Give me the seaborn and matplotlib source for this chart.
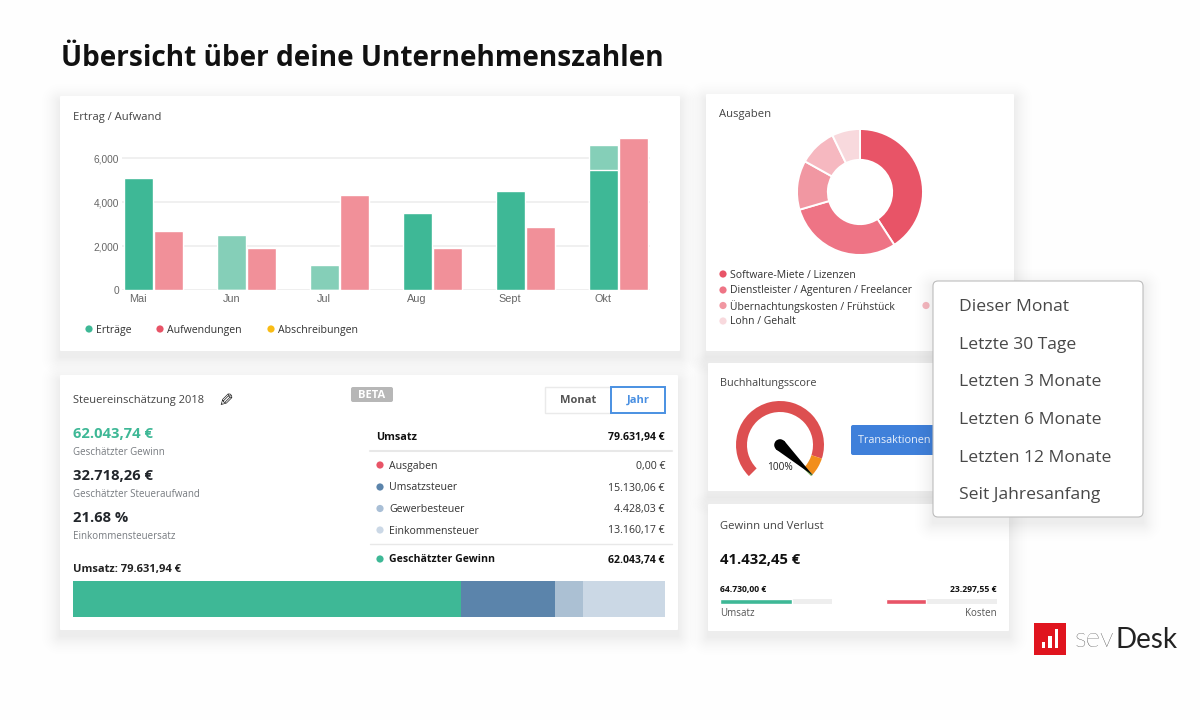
import numpy as np
import pandas as pd
import seaborn as sns
import matplotlib.pyplot as plt
from matplotlib.patches import FancyBboxPatch, Rectangle, Circle, Polygon

# Balkendiagramm
monate = ['Mai', 'Jun', 'Jul', 'Aug', 'Sept', 'Okt']
ertraege_hell = [0, 2480, 1130, 0, 0, 6590]
ertraege = [5080, 0, 0, 3480, 4490, 5470]
aufwendungen = [2680, 1910, 4340, 1910, 2850, 6910]
y_ticks = [0, 2000, 4000, 6000]
y_tick_labels = ['0', '2,000', '4,000', '6,000']
legende_balken = ['Erträge', 'Aufwendungen', 'Abschreibungen']

# Donut
ausgaben_namen = ['Software-Miete / Lizenzen', 'Dienstleister / Agenturen / Freelancer',
                  'Übernachtungskosten / Frühstück', 'Lohn / Gehalt']
ausgaben_werte = [40.8, 29.6, 12.6, 9.7, 7.2]
ausgaben_farben = ['#E85467', '#EE7485', '#F197A2', '#F6B8C0', '#F8D9DD']

# Steuer
steuer_namen = ['Ausgaben', 'Umsatzsteuer', 'Gewerbesteuer', 'Einkommensteuer']
steuer_texte = ['0,00 €', '15.130,06 €', '4.428,03 €', '13.160,17 €']
steuer_farben = ['#E85467', '#5B84AB', '#A9BFD6', '#CBD8E6']
balken_werte = [62043.74, 15130.06, 4428.03, 13160.17]
balken_farben = ['#3EB896', '#5B84AB', '#ABC0D3', '#CBD8E5']
kennzahlen = ['62.043,74 €', '32.718,26 €', '21.68 %']
kennzahlen_namen = ['Geschätzter Gewinn', 'Geschätzter Steueraufwand', 'Einkommensteuersatz']

# Score
score_grad = [243, 24, 3, 90]
score_farben = ['#DD4F50', '#F28E1C', '#7DAF5A', 'white']

# Gewinn und Verlust
umsatz_anteil = [0.64]
kosten_anteil = [0.36]

zeitraeume = ['Dieser Monat', 'Letzte 30 Tage', 'Letzten 3 Monate',
              'Letzten 6 Monate', 'Letzten 12 Monate', 'Seit Jahresanfang']

GRUEN = '#3EB896'
HELLGRUEN = '#85CFB8'
ROSA = '#F19099'
ROT = '#E85467'
DUNKEL = '#22262B'
GRAU = '#777B80'

sns.set_theme(style='white')
plt.rcParams['font.family'] = ['Open Sans', 'DejaVu Sans']


def px_axes(fig, x0, y0, x1, y1):
    # Achsen in Pixelkoordinaten des Bildes (y von oben)
    return fig.add_axes([x0 / 1200, 1 - y1 / 720, (x1 - x0) / 1200, (y1 - y0) / 720])


def schatten(ax, x0, y0, x1, y1, z=1, staerke=0.07, blur=24, versatz=6):
    xx, yy = np.meshgrid(np.arange(1200) + 0.5, np.arange(720) + 0.5)
    dx = np.maximum(np.maximum(x0 - xx, xx - x1), 0)
    dy = np.maximum(np.maximum(y0 + versatz - yy, yy - y1 - versatz), 0)
    rgba = np.zeros((720, 1200, 4))
    rgba[..., 3] = staerke * np.clip(1 - np.hypot(dx, dy) / blur, 0, 1) ** 2
    ax.imshow(rgba, extent=(0, 1200, 720, 0), aspect='auto', zorder=z, interpolation='nearest')
    ax.set_xlim(0, 1200)
    ax.set_ylim(720, 0)


def card(ax, x0, y0, x1, y1, z=1, radius=1, edge='none'):
    schatten(ax, x0, y0, x1, y1, z=z)
    ax.add_patch(FancyBboxPatch((x0, y0), x1 - x0, y1 - y0,
                                boxstyle=f'round,pad=0,rounding_size={radius}',
                                fc='white', ec=edge, lw=0.8, zorder=z + 0.1))


def txt(ax, x, y, s, size=8, color=DUNKEL, weight='normal', ha='left', z=3, **kw):
    ax.text(x, y + 1.5, s, fontsize=size, color=color, fontweight=weight, ha=ha, va='center', zorder=z, **kw)


def dot(ax, x, y, color, r=3.6, z=3):
    ax.add_patch(Circle((x, y), r, fc=color, ec='none', zorder=z))


fig = plt.figure(figsize=(12, 7.2), dpi=100, facecolor='#FEFEFE')
bg = fig.add_axes([0, 0, 1, 1], zorder=0)
bg.set_xlim(0, 1200)
bg.set_ylim(720, 0)
bg.axis('off')

txt(bg, 61, 57, 'Übersicht über deine Unternehmenszahlen', size=20.15, color='#111111', weight='bold')

card(bg, 60, 96, 680, 351)
card(bg, 60, 375, 678, 630)
card(bg, 706, 94, 1014, 351)
card(bg, 708, 363, 1010, 491)
card(bg, 708, 504, 1009, 631)

# Ertrag / Aufwand
txt(bg, 73, 116, 'Ertrag / Aufwand', size=8.1, color='#444444')
ax = px_axes(fig, 122, 130, 650, 290)
ax.patch.set_alpha(0)
ax.set_zorder(2)
hinten = pd.DataFrame({'monat': monate * 2, 'wert': ertraege_hell + aufwendungen,
                       'serie': ['ertrag'] * 6 + ['aufwand'] * 6})
vorne = pd.DataFrame({'monat': monate * 2, 'wert': ertraege + aufwendungen,
                      'serie': ['ertrag'] * 6 + ['aufwand'] * 6})
sns.barplot(data=hinten, x='monat', y='wert', hue='serie', hue_order=['ertrag', 'aufwand'],
            palette={'ertrag': HELLGRUEN, 'aufwand': ROSA}, width=0.66, gap=0.05, saturation=1,
            legend=False, ax=ax, zorder=2)
sns.barplot(data=vorne, x='monat', y='wert', hue='serie', hue_order=['ertrag', 'aufwand'],
            palette={'ertrag': GRUEN, 'aufwand': ROSA}, width=0.66, gap=0.05, saturation=1,
            legend=False, ax=ax, zorder=3)
ax.set_xlim(-0.339, 5.339)
ax.set_ylim(0, 160 / 132 * 6000)
ax.set_xlabel('')
ax.set_ylabel('')
ax.set_xticks(np.arange(6) - 0.165, monate)
ax.set_yticks(y_ticks, y_tick_labels)
ax.tick_params(axis='x', length=0, labelsize=7.8, labelcolor='#666666', pad=3)
ax.tick_params(axis='y', length=0, labelsize=7.3, labelcolor='#666666', pad=2)
for lab in ax.get_xticklabels() + ax.get_yticklabels():
    lab.set_family('Liberation Sans')
ax.grid(axis='y', color='#EFEFEF', lw=1.3, zorder=0)
ax.set_axisbelow(True)
sns.despine(ax=ax, left=True, bottom=True, top=True, right=True)
ax.axhline(0, color='#EFEFEF', lw=1.3, zorder=1)

for x, name, farbe in zip([89, 160, 271], legende_balken, [GRUEN, ROT, '#F9BC15']):
    dot(bg, x, 329, farbe)
    txt(bg, x + 7, 328.5, name, size=7.6, color='#333333')

# Ausgaben
txt(bg, 719, 113, 'Ausgaben', size=8.1, color='#444444')
ax = px_axes(fig, 790, 122, 930, 262)
ax.set_zorder(2)
ax.patch.set_alpha(0)
ax.pie(ausgaben_werte, colors=ausgaben_farben, startangle=90, counterclock=False, radius=1,
       wedgeprops={'width': 0.49, 'edgecolor': 'white', 'linewidth': 1.4})
ax.set_xlim(-70 / 63, 70 / 63)
ax.set_ylim(-70 / 63, 70 / 63)
for y, name, farbe in zip([274, 290, 305.5, 321], ausgaben_namen,
                          [ausgaben_farben[0], ausgaben_farben[1], ausgaben_farben[2], ausgaben_farben[4]]):
    dot(bg, 723, y, farbe)
    txt(bg, 730, y - 0.5, name, size=7.5, color='#333333')
dot(bg, 926, 305.5, ausgaben_farben[3])

# Steuereinschaetzung
txt(bg, 73, 399, 'Steuereinschätzung 2018', size=8, color='#444444')
txt(bg, 213, 398, '\u270e', size=13, color='#222222', family='DejaVu Sans', rotation=-90)
bg.add_patch(FancyBboxPatch((351, 387), 42, 15, boxstyle='round,pad=0,rounding_size=2', fc='#B7B7B7', ec='none', zorder=2))
txt(bg, 372, 393.5, 'BETA', size=8, color='white', weight='bold', ha='center')
bg.add_patch(Rectangle((545, 387), 66, 26, fc='white', ec='#EAEAEA', lw=1, zorder=2))
bg.add_patch(Rectangle((611, 387), 54, 26, fc='white', ec='#4A90E2', lw=1.4, zorder=2))
txt(bg, 578, 399, 'Monat', size=8, color='#555555', weight='bold', ha='center')
txt(bg, 638, 399, 'Jahr', size=8, color='#4A90E2', weight='bold', ha='center')

for y, wert, name, farbe in zip([433, 475, 517], kennzahlen, kennzahlen_namen, [GRUEN, DUNKEL, DUNKEL]):
    txt(bg, 73, y, wert, size=10.6, color=farbe, weight='bold')
    txt(bg, 73, y + 18, name, size=7, color=GRAU)
txt(bg, 73, 568, 'Umsatz: 79.631,94 €', size=8, color='#222222', weight='bold')

txt(bg, 376, 436, 'Umsatz', size=7.8, color='#111111', weight='bold')
txt(bg, 665, 436, '79.631,94 €', size=7.6, color='#111111', weight='bold', ha='right')
bg.plot([370, 672], [451, 451], color='#E8E8E8', lw=1.5, zorder=2)
for y, name, wert, farbe in zip([465, 487, 508.5, 530], steuer_namen, steuer_texte, steuer_farben):
    dot(bg, 380, y, farbe)
    txt(bg, 389, y - 0.5, name, size=7.6, color='#333333')
    txt(bg, 665, y - 0.5, wert, size=7.6, color='#333333', ha='right')
bg.plot([370, 672], [544, 544], color='#E8E8E8', lw=1, zorder=2)
dot(bg, 380, 559, GRUEN)
txt(bg, 389, 558.5, 'Geschätzter Gewinn', size=7.6, color='#111111', weight='bold')
txt(bg, 665, 558.5, '62.043,74 €', size=7.6, color='#111111', weight='bold', ha='right')

ax = px_axes(fig, 73, 581, 665, 617)
ax.set_zorder(2)
links = 0
for wert, farbe in zip(balken_werte, balken_farben):
    ax.barh(0, wert, left=links, height=1, color=farbe, lw=0)
    links += wert
ax.set_xlim(0, links)
ax.set_ylim(-0.5, 0.5)
ax.axis('off')

# Buchhaltungsscore
txt(bg, 720, 382, 'Buchhaltungsscore', size=7.8, color='#444444')
ax = px_axes(fig, 730, 395, 830, 495)
ax.set_zorder(2)
ax.patch.set_alpha(0)
keile, _ = ax.pie(score_grad, colors=score_farben, startangle=225, counterclock=False,
                  radius=44 / 50, wedgeprops={'width': 11 / 50, 'linewidth': 0})
keile[-1].set_visible(False)
ax.set_xlim(-1, 1)
ax.set_ylim(-1, 1)
# Zeiger
ax.add_patch(Circle((0, 0), 5.8 / 50, fc='black', ec='none', zorder=5))
ax.add_patch(Polygon([[-4.2 / 50, -4.2 / 50], [4.2 / 50, 4.2 / 50], [33 / 50, -30.5 / 50]], fc='black', ec='none', zorder=5))
ax.text(0, -22.5 / 50, '100%', fontsize=7.3, color='#222222', ha='center', va='center', zorder=6)
bg.add_patch(FancyBboxPatch((851, 425), 100, 30, boxstyle='round,pad=0,rounding_size=2', fc='#3F80DA', ec='none', zorder=2))
txt(bg, 858, 439, 'Transaktionen zuordnen', size=7.8, color='#E8F0FB')

# Gewinn und Verlust
txt(bg, 720, 525, 'Gewinn und Verlust', size=8.1, color='#444444')
txt(bg, 720, 558, '41.432,45 €', size=10.6, color='#111111', weight='bold')
txt(bg, 720, 588, '64.730,00 €', size=6.2, color='#111111', weight='bold')
txt(bg, 997, 588, '23.297,55 €', size=6.2, color='#111111', weight='bold', ha='right')
txt(bg, 720, 612, 'Umsatz', size=7, color='#555555')
txt(bg, 997, 612, 'Kosten', size=7, color='#555555', ha='right')
for x0, x1, anteil, farbe in [(720, 832, umsatz_anteil, GRUEN), (886, 997, kosten_anteil, ROT)]:
    ax = px_axes(fig, x0, 599, x1, 603.5)
    ax.set_zorder(2)
    ax.set_facecolor('#EEEEEE')
    sns.barplot(x=anteil, y=['a'], color=farbe, width=1, saturation=1, ax=ax)
    ax.set_xlim(0, 1)
    ax.set_xticks([])
    ax.set_yticks([])
    ax.set_xlabel('')
    ax.set_ylabel('')
    sns.despine(ax=ax, left=True, bottom=True)

# Dropdown liegt ueber den Karten
card(bg, 933, 281, 1143, 517, z=4, radius=5, edge='#BDBDBD')
for y, name in zip([306, 344, 381.5, 419, 457, 494], zeitraeume):
    txt(bg, 959, y - 0.5, name, size=12.6, color='#484848', z=5)

# Logo
bg.add_patch(Rectangle((1034, 623), 32, 32, fc='#E0141E', ec='none', zorder=3))
for x, oben in [(1041.5, 642), (1048, 636), (1054.5, 629)]:
    bg.add_patch(Rectangle((x, oben), 3.5, 648 - oben, fc='white', ec='none', zorder=4))
txt(bg, 1075, 638, 'sev', size=20, color='#222222', family='Lato', weight='light')
txt(bg, 1116, 638, 'Desk', size=20, color='#222222', family='Lato')

fig.savefig('out.png', dpi=100, facecolor=fig.get_facecolor())
